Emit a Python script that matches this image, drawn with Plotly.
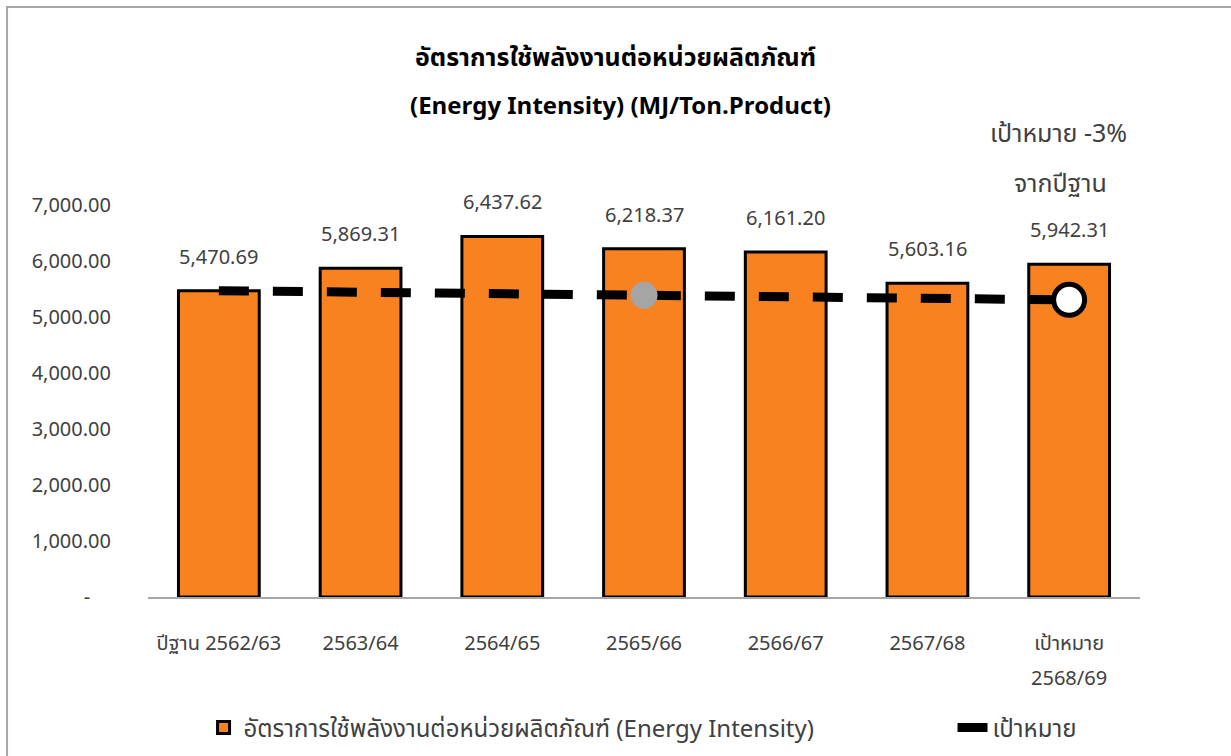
import plotly.graph_objects as go

# data
categories = ["ปีฐาน 2562/63", "2563/64", "2564/65", "2565/66", "2566/67", "2567/68", "เป้าหมาย 2568/69"]
tick_labels = ["ปีฐาน 2562/63", "2563/64", "2564/65", "2565/66", "2566/67", "2567/68", "เป้าหมาย"]
intensity = [5470.69, 5869.31, 6437.62, 6218.37, 6161.20, 5603.16, 5942.31]
target = [5470.69, 5443.34, 5415.98, 5388.63, 5361.28, 5333.92, 5306.57]
y_ticks = [0, 1000, 2000, 3000, 4000, 5000, 6000, 7000]
y_tick_text = ["-\u00a0\u00a0\u00a0\u00a0", "1,000.00", "2,000.00", "3,000.00", "4,000.00",
               "5,000.00", "6,000.00", "7,000.00"]

ORANGE = "#F8821F"
TXT = "#404040"
FONT = "Tahoma, 'Noto Sans Thai', 'Noto Sans', sans-serif"

fig = go.Figure()

fig.add_trace(go.Bar(
    x=categories,
    y=intensity,
    name="อัตราการใช้พลังงานต่อหน่วยผลิตภัณฑ์ (Energy Intensity)",
    marker=dict(color=ORANGE, line=dict(color="black", width=3)),
    legend="legend",
))

fig.add_trace(go.Scatter(
    x=categories,
    y=target,
    mode="lines",
    name="เป้าหมาย",
    line=dict(color="black", width=9, dash="30px,24px"),
    legend="legend2",
))

# highlighted points on the target line
fig.add_trace(go.Scatter(
    x=[categories[3]], y=[target[3]], mode="markers", showlegend=False,
    marker=dict(size=27, color="#A5A5A5", line=dict(width=0)),
))
fig.add_trace(go.Scatter(
    x=[categories[6]], y=[target[6]], mode="markers", showlegend=False,
    marker=dict(size=31, color="white", line=dict(color="black", width=5)),
))

# value labels above bars
for cat, val in zip(categories, intensity):
    fig.add_annotation(
        x=cat, y=val, text=f"{val:,.2f}", showarrow=False,
        yshift=33, font=dict(size=20, color=TXT),
    )

fig.add_annotation(x=categories[6], y=0, yref="y", text="2568/69", showarrow=False,
                   yshift=-82, font=dict(size=20, color=TXT))
fig.add_annotation(x=categories[6], y=1.18, yref="paper", text="เป้าหมาย -3%", showarrow=False,
                   xshift=-11, font=dict(size=25, color=TXT), yanchor="middle")
fig.add_annotation(x=categories[6], y=1.053, yref="paper", text="จากปีฐาน", showarrow=False,
                   xshift=-9, font=dict(size=25, color=TXT), yanchor="middle")

fig.add_annotation(x=0.5, xref="paper", y=1.0, yref="paper", text="<b>(Energy Intensity) (MJ/Ton.Product)</b>",
                   showarrow=False, xshift=-24, yshift=98, yanchor="middle",
                   font=dict(size=24, color="black"))

# outer chart border
fig.add_shape(type="rect", xref="paper", yref="paper", x0=-0.1421, x1=1.2, y0=-0.5, y1=1.505,
              line=dict(color="#A6A6A6", width=2), layer="below")

fig.update_layout(
    width=1231,
    height=756,
    font=dict(family=FONT, color=TXT, size=20),
    title=dict(
        text="<b>อัตราการใช้พลังงานต่อหน่วยผลิตภัณฑ์</b>",
        x=0.5, xanchor="center", y=1 - 57 / 756, yanchor="middle",
        font=dict(size=25, color="black"),
    ),
    plot_bgcolor="white",
    paper_bgcolor="white",
    bargap=0.43,
    margin=dict(l=148, r=91, t=205, b=159, autoexpand=False),
    xaxis=dict(
        tickvals=categories,
        ticktext=tick_labels,
        showline=True, linecolor="#A6A6A6", linewidth=2,
        showgrid=False, ticks="",
        ticklabelstandoff=27,
        tickfont=dict(size=20, color=TXT),
    ),
    yaxis=dict(
        range=[0, 7000],
        tickvals=y_ticks,
        ticktext=y_tick_text,
        showgrid=False, zeroline=False, showline=False,
        ticklabelstandoff=36,
        tickfont=dict(size=20, color=TXT),
    ),
    legend=dict(
        orientation="h",
        x=0.056, xanchor="left",
        y=-0.334, yanchor="middle",
        font=dict(size=24, color=TXT),
    ),
    legend2=dict(
        orientation="h",
        x=0.811, xanchor="left",
        y=-0.334, yanchor="middle",
        font=dict(size=24, color=TXT),
    ),
)

fig.write_html("out.html", config={"displayModeBar": False},
               post_script="document.body.style.margin='0';")
